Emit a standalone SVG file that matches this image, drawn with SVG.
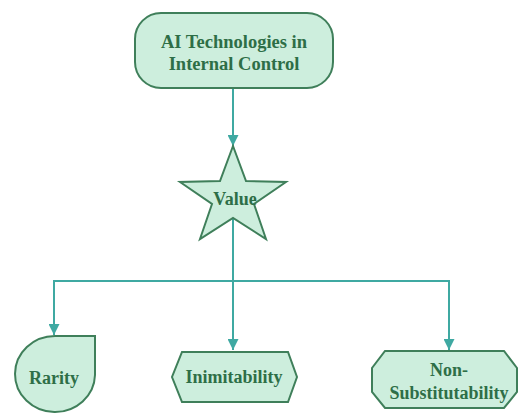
<svg xmlns="http://www.w3.org/2000/svg" width="519" height="414" viewBox="0 0 519 414">
<defs>
<style>
.node{fill:#cdeedd;stroke:#3f7f5a;stroke-width:2;}
.lbl{font-family:"Liberation Serif","Times New Roman",serif;font-weight:bold;font-size:18px;fill:#2e6e47;text-anchor:middle;}
.top{font-size:18.5px;}
.conn{fill:none;stroke:#3fa9a2;stroke-width:2;}
</style>
<marker id="arr" viewBox="0 0 10 10" refX="10" refY="5" markerWidth="5.5" markerHeight="5.5" orient="auto" markerUnits="strokeWidth">
<path d="M0,0 L10,5 L0,10 Z" fill="#3fa9a2"/>
</marker>
</defs>
<rect width="519" height="414" fill="#ffffff"/>
<g id="connectors">
<path class="conn" d="M233,88 L233,146" marker-end="url(#arr)"/>
<path class="conn" d="M233,205 L233,281 L54,281 L54,335" marker-end="url(#arr)"/>
<path class="conn" d="M233,281 L233,350" marker-end="url(#arr)"/>
<path class="conn" d="M233,281 L449,281 L449,350" marker-end="url(#arr)"/>
</g>
<g id="node-ai">
<rect class="node" x="135" y="13" width="198" height="75" rx="26" ry="26"/>
<text class="lbl top" x="234" y="48">AI Technologies in</text>
<text class="lbl top" x="234" y="70">Internal Control</text>
</g>
<g id="node-value">
<polygon class="node" points="233,146 246,181 286,182 254,204 266,239 233,218 200,239 212,204 180,182 220,181"/>
<text class="lbl" x="235" y="205">Value</text>
</g>
<g id="node-rarity">
<path class="node" d="M95,336 L95,375 A40,38 0 1 1 55,336 Z"/>
<text class="lbl" x="54" y="384">Rarity</text>
</g>
<g id="node-inimitability">
<polygon class="node" points="182,352 288,352 297,377 288,402 182,402 172,377"/>
<text class="lbl" x="234" y="383">Inimitability</text>
</g>
<g id="node-nonsub">
<polygon class="node" points="385,351 504,351 517,368 517,392 504,408 385,408 372,392 372,368"/>
<text class="lbl" x="449" y="376">Non-</text>
<text class="lbl" x="449" y="399">Substitutability</text>
</g>
</svg>
